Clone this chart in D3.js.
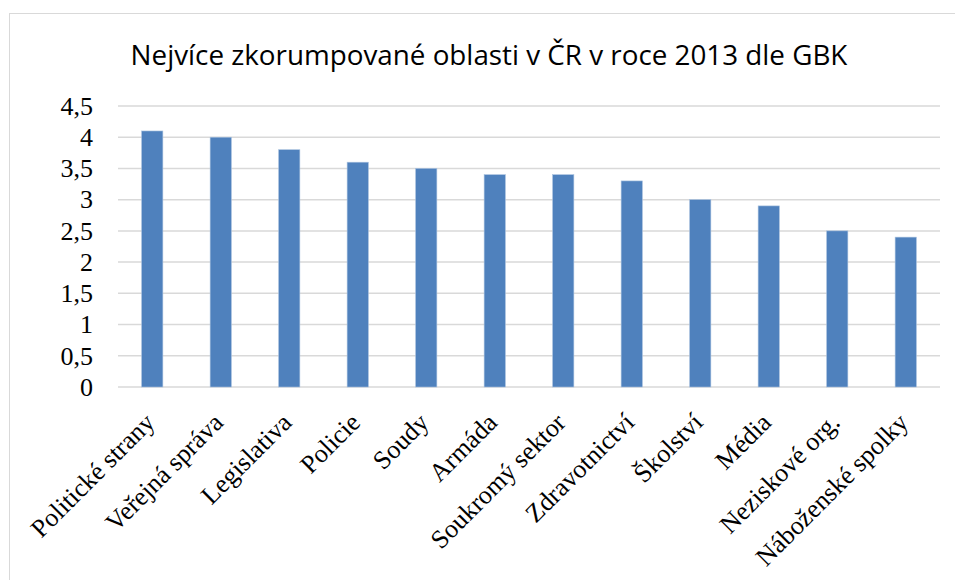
<!DOCTYPE html>
<html>
<head>
<meta charset="utf-8">
<script src="https://cdn.jsdelivr.net/npm/d3@7"></script>
<style>
  body { margin: 0; background: #fff; }
  .title { font-family: "Open Sans", "Liberation Sans", sans-serif; font-size: 27.8px; fill: #000; }
  .axis text { font-family: "Liberation Serif", "DejaVu Serif", serif; font-size: 26px; fill: #000; }
</style>
</head>
<body>
<svg id="chart" width="955" height="580"></svg>
<script>
const categories = [
  "Politické strany", "Veřejná správa", "Legislativa", "Policie", "Soudy", "Armáda",
  "Soukromý sektor", "Zdravotnictví", "Školství", "Média", "Neziskové org.", "Náboženské spolky"
];
const values = [4.1, 4.0, 3.8, 3.6, 3.5, 3.4, 3.4, 3.3, 3.0, 2.9, 2.5, 2.4];
const yTicks = [0, 0.5, 1, 1.5, 2, 2.5, 3, 3.5, 4, 4.5];

const svg = d3.select("#chart");

// chart frame
svg.append("rect")
  .attr("x", 9.5).attr("y", 13.5)
  .attr("width", 960).attr("height", 580)
  .attr("fill", "#fff")
  .attr("stroke", "#d9d9d9");

const x = d3.scaleBand()
  .domain(categories)
  .range([118, 940])
  .paddingInner(0.69)
  .paddingOuter(0.345);

const y = d3.scaleLinear()
  .domain([0, 4.5])
  .range([387, 106]);

const fmt = d => String(d).replace(".", ",");

svg.append("text")
  .attr("class", "title")
  .attr("x", 489)
  .attr("y", 65)
  .attr("text-anchor", "middle")
  .text("Nejvíce zkorumpované oblasti v ČR v roce 2013 dle GBK");

// gridlines
svg.append("g")
  .selectAll("line")
  .data(yTicks)
  .join("line")
  .attr("x1", 118).attr("x2", 940)
  .attr("y1", d => y(d)).attr("y2", d => y(d))
  .attr("stroke", "#d9d9d9")
  .attr("stroke-width", 1.5);

// y axis labels
const yAxis = svg.append("g")
  .attr("class", "axis")
  .attr("transform", "translate(118,0)")
  .call(d3.axisLeft(y).tickValues(yTicks).tickFormat(fmt).tickSize(0).tickPadding(25));
yAxis.select(".domain").remove();

// bars
svg.append("g")
  .selectAll("rect")
  .data(values)
  .join("rect")
  .attr("x", (d, i) => x(categories[i]))
  .attr("y", d => y(d))
  .attr("width", x.bandwidth())
  .attr("height", d => y(0) - y(d))
  .attr("fill", "#4f81bd")
  .attr("stroke", "#a7c0de")
  .attr("stroke-width", 0.6);

// x labels
const xAxis = svg.append("g")
  .attr("class", "axis")
  .attr("transform", `translate(0,${y(0)})`)
  .call(d3.axisBottom(x).tickSize(0).tickPadding(0));
xAxis.select(".domain").remove();
xAxis.selectAll(".tick text")
  .attr("text-anchor", "end")
  .attr("y", null)
  .attr("dy", 0)
  .attr("transform", "translate(4,37) rotate(-45)");
</script>
</body>
</html>
